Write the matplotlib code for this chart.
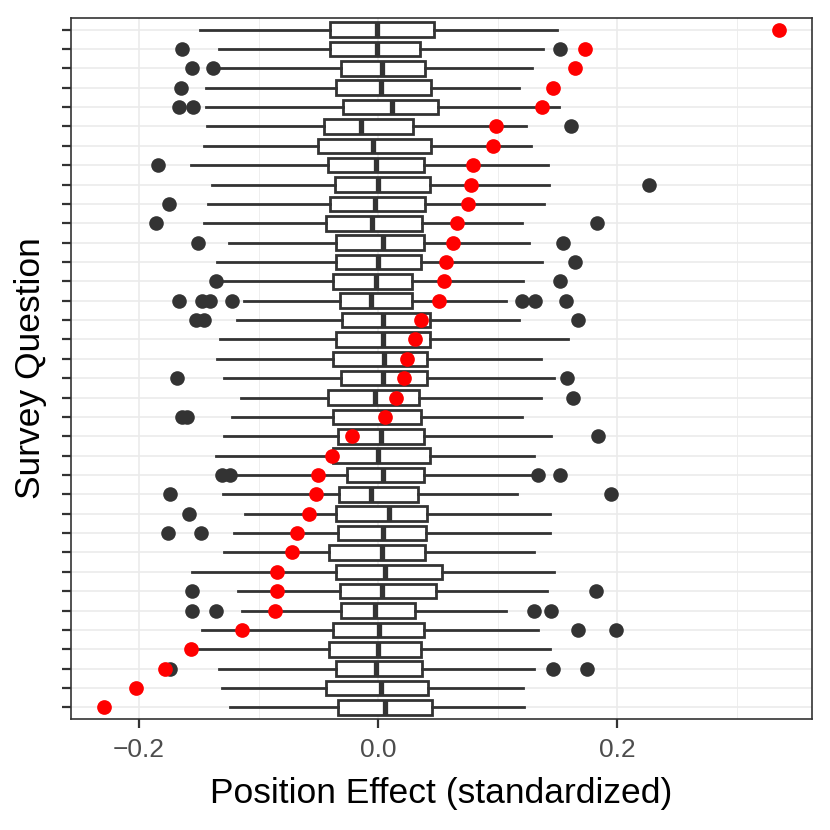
import numpy as np
import matplotlib
matplotlib.use("Agg")
import matplotlib.pyplot as plt

plt.rcParams['font.family'] = ['Liberation Sans', 'DejaVu Sans']

# survey questions, listed top to bottom
whis_lo = [-0.149, -0.133, -0.132, -0.144, -0.144, -0.143, -0.146, -0.157, -0.139, -0.142,
           -0.146, -0.125, -0.135, -0.131, -0.112, -0.118, -0.132, -0.135, -0.129, -0.115,
           -0.122, -0.129, -0.136, -0.119, -0.130, -0.111, -0.121, -0.129, -0.156, -0.117,
           -0.114, -0.147, -0.152, -0.133, -0.131, -0.124]
q1 = [-0.040, -0.040, -0.031, -0.035, -0.029, -0.045, -0.050, -0.042, -0.036, -0.040,
      -0.044, -0.035, -0.035, -0.038, -0.032, -0.030, -0.035, -0.038, -0.031, -0.042,
      -0.038, -0.034, -0.038, -0.026, -0.033, -0.035, -0.034, -0.041, -0.035, -0.032,
      -0.031, -0.038, -0.041, -0.035, -0.044, -0.034]
med = [-0.001, -0.001, 0.003, 0.002, 0.012, -0.014, -0.004, -0.002, 0.000, -0.003,
       -0.005, 0.004, 0.000, -0.002, -0.006, 0.004, 0.004, 0.005, 0.004, -0.003,
       0.004, 0.002, 0.000, 0.004, -0.006, 0.009, 0.004, 0.003, 0.006, 0.003,
       -0.003, 0.001, 0.000, -0.002, 0.002, 0.006]
q3 = [0.047, 0.035, 0.039, 0.044, 0.050, 0.029, 0.044, 0.038, 0.043, 0.039,
      0.037, 0.038, 0.036, 0.028, 0.028, 0.043, 0.043, 0.041, 0.041, 0.034,
      0.036, 0.038, 0.043, 0.038, 0.033, 0.041, 0.040, 0.039, 0.053, 0.048,
      0.031, 0.038, 0.036, 0.037, 0.042, 0.045]
whis_hi = [0.150, 0.138, 0.129, 0.118, 0.151, 0.124, 0.128, 0.142, 0.143, 0.139,
           0.120, 0.126, 0.137, 0.121, 0.107, 0.118, 0.159, 0.136, 0.147, 0.136,
           0.120, 0.145, 0.130, 0.128, 0.116, 0.144, 0.144, 0.130, 0.147, 0.141,
           0.107, 0.134, 0.144, 0.130, 0.121, 0.122]
outliers = [[], [-0.164, 0.152], [-0.156, -0.138], [-0.165], [-0.167, -0.155],
            [0.161], [], [-0.184], [0.227], [-0.175],
            [-0.186, 0.183], [-0.151, 0.155], [0.165], [-0.136, 0.152],
            [-0.167, -0.147, -0.141, -0.122, 0.120, 0.131, 0.157],
            [-0.152, -0.146, 0.167], [], [], [-0.168, 0.158], [0.163],
            [-0.164, -0.160], [0.184], [], [-0.131, -0.124, 0.134, 0.152],
            [-0.174, 0.195], [-0.158], [-0.176, -0.148], [], [], [-0.156, 0.182],
            [-0.156, -0.136, 0.130, 0.145], [0.167, 0.199], [], [-0.174, 0.146, 0.175],
            [], []]
position_effect = [0.335, 0.173, 0.165, 0.146, 0.137, 0.099, 0.096, 0.079, 0.078, 0.075,
                   0.066, 0.063, 0.057, 0.055, 0.051, 0.036, 0.031, 0.024, 0.022, 0.015,
                   0.006, -0.022, -0.039, -0.050, -0.052, -0.058, -0.068, -0.072, -0.085, -0.085,
                   -0.086, -0.114, -0.157, -0.178, -0.203, -0.229]

xticks = [-0.2, 0.0, 0.2]
xticklabels = ['\u22120.2', '0.0', '0.2']

dark = '#333333'
grid = '#EBEBEB'
n = len(med)
ypos = np.arange(n)

stats = []
for i in range(n):
    stats.append(dict(whislo=whis_lo[i], q1=q1[i], med=med[i], q3=q3[i],
                      whishi=whis_hi[i], fliers=outliers[i]))

fig = plt.figure(figsize=(8.3, 8.3), dpi=100)
ax = fig.add_axes([71/830, 1 - 719/830, 741/830, 701/830])

ax.bxp(stats, positions=ypos, vert=False, widths=0.75, patch_artist=True,
       showcaps=False,
       boxprops=dict(facecolor='white', edgecolor=dark, linewidth=2.0),
       medianprops=dict(color=dark, linewidth=3.8, solid_capstyle='butt'),
       whiskerprops=dict(color=dark, linewidth=2.0),
       flierprops=dict(marker='o', markerfacecolor=dark, markeredgecolor='none',
                       markersize=10.5))
ax.scatter(position_effect, ypos, s=112, color='red', zorder=5, linewidths=0)

ax.set_xlim(-0.257, 0.363)
ax.set_ylim(n - 1 + 0.6, -0.6)
ax.set_xticks(xticks)
ax.set_xticklabels(xticklabels)
ax.set_xticks([-0.1, 0.1, 0.3], minor=True)
ax.set_yticks(ypos)
ax.set_yticklabels([])

ax.set_axisbelow(True)
ax.grid(True, which='major', color=grid, linewidth=1.2)
ax.grid(True, which='minor', axis='x', color=grid, linewidth=0.6)

ax.tick_params(axis='both', which='major', length=6.5, width=1.6, color=dark,
               labelsize=19, labelcolor='#4D4D4D', pad=7)
ax.tick_params(axis='x', which='minor', length=0)
for s in ax.spines.values():
    s.set_color(dark)
    s.set_linewidth(1.2)

ax.set_xlabel('Position Effect (standardized)', fontsize=25.5, labelpad=11)
ax.set_ylabel('Survey Question', fontsize=25.5, labelpad=4)

fig.savefig('out.png', dpi=100)
